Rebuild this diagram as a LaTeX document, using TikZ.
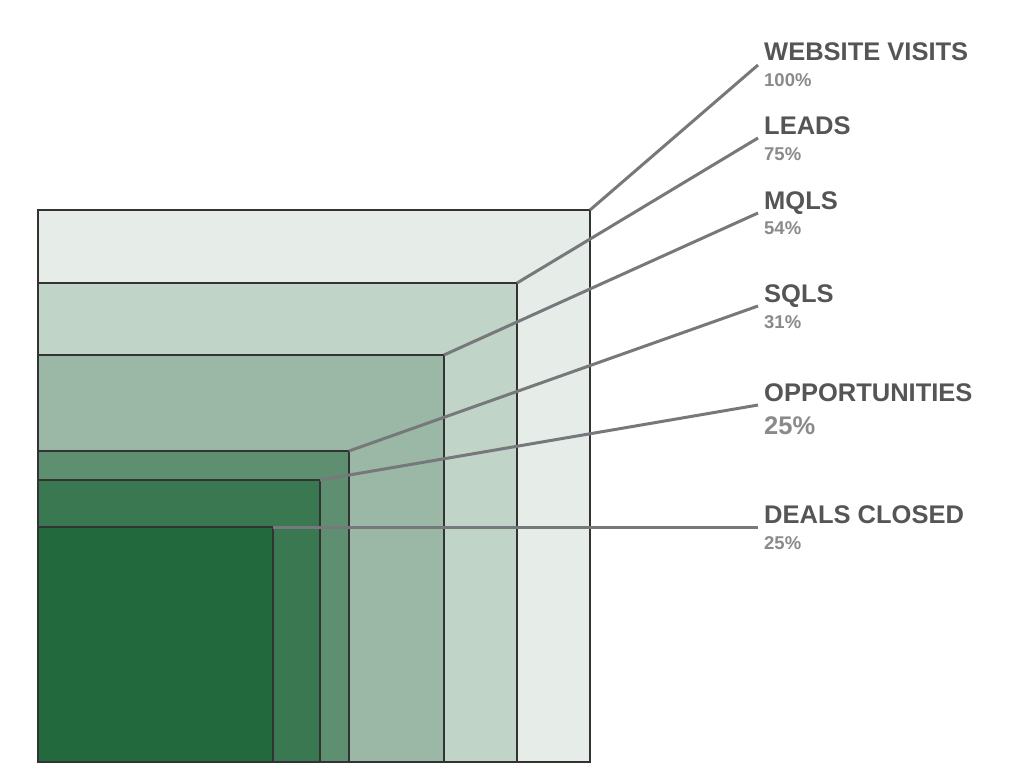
\documentclass[tikz,border=0pt]{standalone}
\usepackage{fontspec}
\setmainfont{Liberation Sans}
\definecolor{visitsfill}{HTML}{E6EDE9}
\definecolor{leadsfill}{HTML}{C0D4C7}
\definecolor{mqlsfill}{HTML}{9AB8A5}
\definecolor{sqlsfill}{HTML}{5E8F70}
\definecolor{oppsfill}{HTML}{3A7852}
\definecolor{dealsfill}{HTML}{23693E}
\definecolor{leadgray}{HTML}{77787B}
\definecolor{titlegray}{HTML}{555555}
\definecolor{sharegray}{HTML}{8A8A8A}

\begin{document}
\begin{tikzpicture}[x=1pt,y=-1pt,
    stage/.style={draw=black!80, line width=1.1pt, inner sep=0pt, outer sep=0pt, anchor=south west},
    leader/.style={draw=leadgray, line width=3pt},
    title/.style={anchor=base west, inner sep=0pt, text=titlegray, font=\bfseries\fontsize{25.5}{26}\selectfont},
    share/.style={anchor=base west, inner sep=0pt, text=sharegray, font=\bfseries\fontsize{18.5}{19}\selectfont},
    bigshare/.style={share, font=\bfseries\fontsize{25.5}{26}\selectfont}]

  \useasboundingbox (0,0) rectangle (1024,773);

  % nested stages, all on the same bottom left corner
  \foreach \name/\rx/\ty in {visits/590/210, leads/517/283, mqls/444/355,
                             sqls/349/451, opps/320/480, deals/273/527}{
    \node[stage, fill=\name fill, minimum width={(\rx-38)*1pt}, minimum height={(762-\ty)*1pt}]
      (\name) at (38,762) {};
  }

  % labels and leaders
  \foreach \name/\txt/\pct/\sz/\tb/\pb in {visits/WEBSITE VISITS/100\%/share/61/87,
                                           leads/LEADS/75\%/share/134/160,
                                           mqls/MQLS/54\%/share/209/234,
                                           sqls/SQLS/31\%/share/302/328,
                                           opps/OPPORTUNITIES/25\%/bigshare/401/434,
                                           deals/DEALS CLOSED/25\%/share/523/549}{
    \node[title] (\name-t) at (764,\tb) {\txt};
    \node[\sz] (\name-p) at (764,\pb) {\pct};
    \draw[leader] (\name.north east) -- ([xshift=-6pt,yshift=-4pt]\name-t.base west);
  }

\end{tikzpicture}
\end{document}
